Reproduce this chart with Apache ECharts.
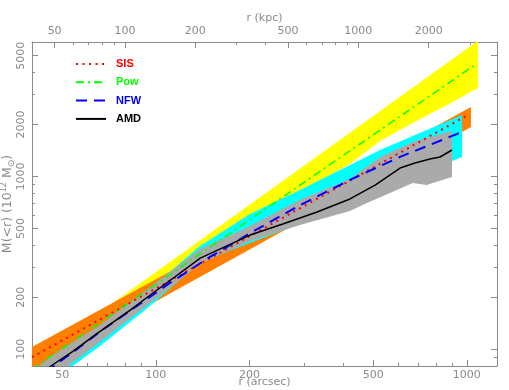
<!DOCTYPE html>
<html>
<head>
<meta charset="utf-8">
<script src="https://cdn.jsdelivr.net/npm/echarts@6/dist/echarts.min.js"></script>
<style>
  html, body { margin: 0; padding: 0; background: #fff; }
  #chart { width: 509px; height: 390px; }
</style>
</head>
<body>
<div id="chart"></div>
<script>
// r in arcsec, M(<r) in 10^12 Msun

// best fit curves
const sisR = [40, 1000]
const sisM = [90, 2250]
const powR = [40, 1050]
const powM = [76.5, 4360]
const nfwR = [40, 47, 57, 66, 83, 111, 149, 201, 291, 421, 610, 965]
const nfwM = [63, 80, 103, 126, 168, 242, 341, 470, 682, 956, 1298, 1809]
const amdR = [40, 46, 54, 65, 83, 96, 139, 201, 256, 330, 421, 507, 610, 681, 761, 820, 896]
const amdM = [66, 80, 97, 124, 169, 206, 337, 458, 531, 623, 741, 892, 1119, 1197, 1262, 1296, 1423]

// error bands (upper edge / lower edge)
const sisUpR = [40, 1031]
const sisUpM = [103, 2523]
const sisLoR = [40, 1031]
const sisLoM = [76, 1934]

const powUpR = [40, 1086]
const powUpM = [85.5, 6100]
const powLoR = [40, 82.6, 138.8, 200.9, 290.8, 421, 526, 670, 864, 1086]
const powLoM = [66.4, 169, 337, 545, 813, 1181, 1604, 2039, 2592, 3251]

const nfwUpR = [40, 66.2, 95.8, 138.8, 200.9, 290.8, 526, 965]
const nfwUpM = [71.9, 134.5, 223, 396, 606, 835, 1423, 2268]
const nfwLoR = [40, 53, 66.2, 95.8, 138.8, 290.8, 526, 965]
const nfwLoM = [55.1, 77.9, 104.4, 178, 320, 531, 835, 1296]

const amdUpR = [40, 45.7, 66.2, 95.8, 138.8, 200.9, 290.8, 421, 526, 670, 761, 896]
const amdUpM = [73.9, 90.2, 138.2, 229, 380, 517, 732, 967, 1296, 1583, 1692, 1833]
const amdLoR = [40, 45.7, 52.2, 66.2, 95.8, 138.8, 200.9, 290.8, 421, 477.5, 566, 670, 742, 896]
const amdLoM = [56.6, 69.1, 80, 110.2, 185.3, 311.4, 423, 524, 631, 702, 802, 917, 892, 993]

// ticks
const arcMajor = [50, 100, 200, 500, 1000]
const arcMinor = [60, 70, 80, 90, 300, 400, 600, 700, 800, 900]
const kpcMajor = [50, 100, 200, 500, 1000, 2000]
const kpcMinor = [60, 70, 80, 90, 300, 400, 600, 700, 800, 900, 3000]
const mMajor = [100, 200, 500, 1000, 2000, 5000]
const mMinor = [90, 300, 400, 600, 700, 800, 900, 3000, 4000]

const gray = '#8a8a8a'
const txt = { color: '#8a8a8a', fontSize: 11, fontFamily: 'DejaVu Sans' }
const plain = v => String(v)

function zip(a, b) {
  return a.map((v, i) => [v, b[i]])
}

function band(color, upR, upM, loR, loM) {
  const pts = zip(upR, upM).concat(zip(loR, loM).reverse())
  return {
    type: 'custom',
    silent: true,
    clip: true,
    xAxisIndex: 0,
    yAxisIndex: 0,
    encode: { x: 0, y: 1 },
    data: pts,
    renderItem: (params, api) => {
      if (params.dataIndex !== 0) return
      return {
        type: 'polygon',
        shape: { points: pts.map(p => api.coord(p)) },
        style: { fill: color, stroke: null }
      }
    }
  }
}

function fit(name, color, r, m, dash, w) {
  return {
    name: name,
    type: 'line',
    symbol: 'none',
    silent: true,
    xAxisIndex: 0,
    yAxisIndex: 0,
    data: zip(r, m),
    lineStyle: { color: color, width: w, type: dash },
    itemStyle: { color: color },
    z: 5
  }
}

function xAx(pos, max, ticks, len, labels, name, nameGap) {
  return {
    type: 'log',
    position: pos,
    min: 40,
    max: max,
    axisLine: { show: !!labels, lineStyle: { color: gray, width: 1 } },
    axisTick: { inside: true, length: len, customValues: ticks, lineStyle: { color: gray } },
    axisLabel: labels ? Object.assign({ customValues: ticks, formatter: plain, margin: pos === 'top' ? 5 : 4 }, txt) : { show: false },
    splitLine: { show: false },
    name: name,
    nameLocation: 'middle',
    nameGap: nameGap,
    nameMoveOverlap: false,
    nameTextStyle: txt
  }
}

function yAx(pos, ticks, len, labels, named) {
  return {
    type: 'log',
    position: pos,
    min: 80,
    max: 6000,
    axisLine: { show: len > 3, lineStyle: { color: gray, width: 1 } },
    axisTick: { inside: true, length: len, customValues: ticks, lineStyle: { color: gray } },
    axisLabel: labels ? Object.assign({ customValues: ticks, formatter: plain, rotate: 90, margin: 5 }, txt) : { show: false },
    splitLine: { show: false },
    name: named ? '{a|M(<r) (10}{s|12}{a| M}{o|\u2299}{a|)}' : '',
    nameLocation: 'middle',
    nameRotate: 90,
    nameGap: 16,
    nameMoveOverlap: false,
    nameTextStyle: {
      color: txt.color,
      fontFamily: txt.fontFamily,
      rich: {
        a: { fontSize: 12.5, color: txt.color, lineHeight: 16, verticalAlign: 'middle' },
        s: { fontSize: 8, color: txt.color, verticalAlign: 'top' },
        o: { fontSize: 9, color: txt.color, verticalAlign: 'bottom' }
      }
    }
  }
}

const chart = echarts.init(document.getElementById('chart'), null, { renderer: 'canvas' })

chart.setOption({
  animation: false,
  backgroundColor: '#fff',
  grid: { left: 32, right: 12, top: 42, bottom: 24, outerBoundsMode: 'none', containLabel: false },
  legend: {
    orient: 'vertical',
    left: 75,
    top: 58.5,
    padding: 0,
    itemWidth: 30,
    itemHeight: 10,
    itemGap: 7.3,
    selectedMode: false,
    itemStyle: { color: 'transparent', borderWidth: 0, opacity: 0 },
    textStyle: { fontSize: 11, fontWeight: 'bold', fontFamily: 'Liberation Sans', padding: [0, 0, 0, 5] },
    data: [
      { name: 'SIS', textStyle: { color: '#ff0000' } },
      { name: 'Pow', textStyle: { color: '#00ff00' } },
      { name: 'NFW', textStyle: { color: '#0000ff' } },
      { name: 'AMD', textStyle: { color: '#000000' } }
    ]
  },
  xAxis: [
    xAx('bottom', 1250, arcMajor, 6, true, 'r (arcsec)', 11),
    xAx('bottom', 1250, arcMinor, 3, false, '', 0),
    xAx('top', 3925, kpcMajor, 6, true, 'r (kpc)', 18),
    xAx('top', 3925, kpcMinor, 3, false, '', 0)
  ],
  yAxis: [
    yAx('left', mMajor, 6, true, true),
    yAx('left', mMinor, 3, false, false),
    yAx('right', mMajor, 6, false, false),
    yAx('right', mMinor, 3, false, false)
  ],
  series: [
    band('#ffff00', powUpR, powUpM, powLoR, powLoM),
    band('#ff7f00', sisUpR, sisUpM, sisLoR, sisLoM),
    band('#00ffff', nfwUpR, nfwUpM, nfwLoR, nfwLoM),
    band('#aaaaaa', amdUpR, amdUpM, amdLoR, amdLoM),
    fit('SIS', '#ff0000', sisR, sisM, [2, 4.5], 2),
    fit('Pow', '#00ff00', powR, powM, [8, 4, 2, 4], 1.5),
    fit('NFW', '#0000ff', nfwR, nfwM, [11, 7], 2),
    fit('AMD', '#000000', amdR, amdM, 'solid', 1.5)
  ]
})
</script>
</body>
</html>
